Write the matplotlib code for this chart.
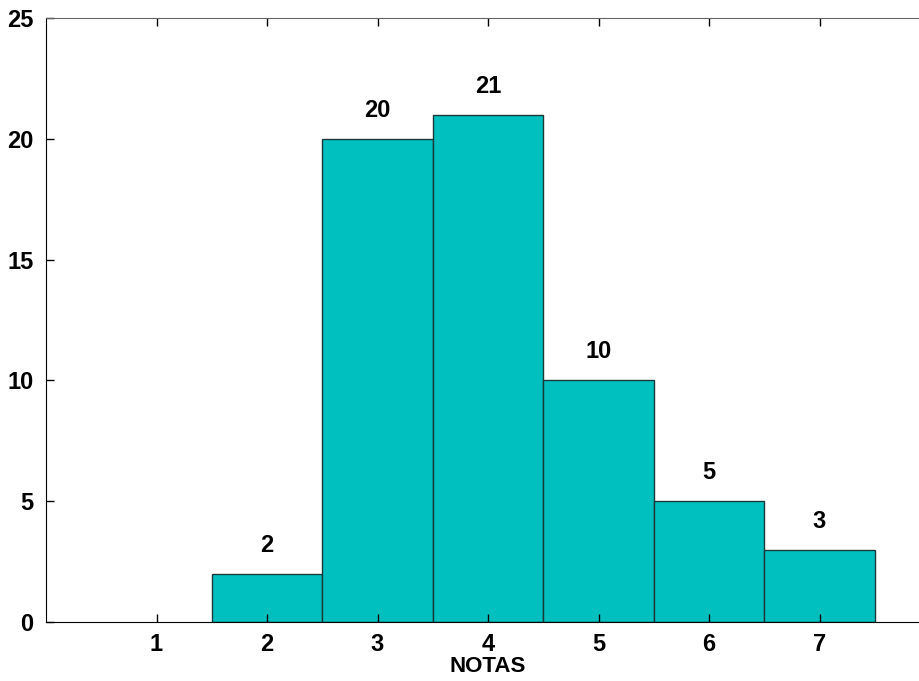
import matplotlib
matplotlib.use("Agg")
import matplotlib.pyplot as plt

notas = [1, 2, 3, 4, 5, 6, 7]
counts = [0, 2, 20, 21, 10, 5, 3]
yticks = [0, 5, 10, 15, 20, 25]

plt.rcParams['font.family'] = ['Liberation Sans', 'DejaVu Sans']

fig = plt.figure(figsize=(9.19, 6.81), dpi=100)
# axes runs past the right edge of the figure (the original is cropped there)
ax = fig.add_axes([46 / 919, 59 / 681, 884 / 919, 604 / 681])

# empty classes leave no mark at all
xs = [x for x, c in zip(notas, counts) if c > 0]
hs = [c for c in counts if c > 0]
ax.bar(xs, hs, width=1.0, color="#00BFBF", edgecolor="#1a3a3a", lw=1.0)
for x, c in zip(xs, hs):
    ax.text(x, c + 0.7, str(c), ha="center", va="bottom",
            fontsize=17, fontweight="bold")

ax.set_xlim(0, 8)
ax.set_ylim(0, 25)
ax.set_xticks(notas)
ax.set_yticks(yticks)
ax.tick_params(direction="in", length=6, width=1, labelsize=17, top=True, right=True)
ax.tick_params(axis="x", pad=8)
ax.tick_params(axis="y", pad=9)
for lab in ax.get_xticklabels() + ax.get_yticklabels():
    lab.set_fontweight("bold")
ax.set_xlabel("NOTAS", fontsize=16, fontweight="bold", labelpad=0)
ax.spines["top"].set_color("#666666")
for s in ("left", "bottom"):
    ax.spines[s].set_color("black")

fig.savefig("out.png", dpi=100)
